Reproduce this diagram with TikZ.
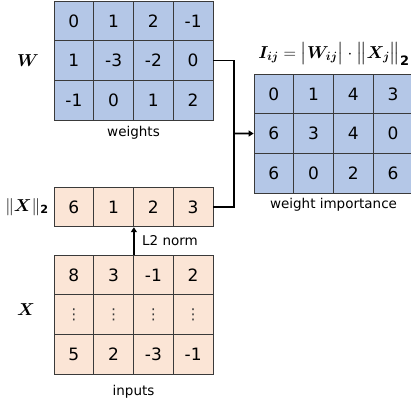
\documentclass[tikz,border=0pt]{standalone}
\usepackage{amsmath,amssymb,bm}
\usepackage{fontspec}
\setmainfont{DejaVu Sans}
\usetikzlibrary{arrows.meta,calc,positioning}
\definecolor{wBlue}{HTML}{B4C7E7}
\definecolor{xPeach}{HTML}{FBE5D6}
\definecolor{ink}{HTML}{000000}
\definecolor{gridline}{HTML}{3A3A3A}
\tikzset{
  cell/.style={draw=gridline,line width=0.8pt,minimum width=39.75pt,
    minimum height=39.67pt,inner sep=0pt,font=\fontsize{17}{17}\selectfont,text=ink},
  wcell/.style={cell,fill=wBlue},
  xcell/.style={cell,fill=xPeach},
  caption/.style={font=\fontsize{13.5}{14}\selectfont,text=ink},
  mathlabel/.style={font=\fontsize{19}{19}\selectfont,text=ink},
  link/.style={line width=1.8pt,draw=ink},
  link arrow/.style={link,-{Triangle[length=5pt,width=6pt]}},
}
\newcommand{\rowdots}{{\fontsize{15}{15}\selectfont\textcolor{gridline}{⋮}}}
\begin{document}
\begin{tikzpicture}[x=1pt,y=-1pt]
  \useasboundingbox (0,0) rectangle (411,398);

  % weights W
  \foreach \row [count=\r] in {{0,1,2,-1},{1,-3,-2,0},{-1,0,1,2}}
    \foreach \val [count=\c] in \row
      \node[wcell] (w-\r-\c) at ({54+39.75*(\c-0.5)},{1+39.67*(\r-0.5)}) {\val};
  \node[caption] (wcap) at (133.5,133) {weights};
  \node[mathlabel] (wlab) at (28,61) {$\bm{W}$};

  % column norms
  \foreach \val [count=\c] in {6,1,2,3}
    \node[xcell] (n-1-\c) at ({54+39.75*(\c-0.5)},207) {\val};
  \node[mathlabel,font=\fontsize{16}{16}\selectfont] (nlab) at (27,207)
    {$\|\bm{X}\|_{\mathbf{2}}$};

  % inputs X
  \foreach \row [count=\r] in {{8,3,-1,2},{\rowdots,\rowdots,\rowdots,\rowdots},{5,2,-3,-1}}
    \foreach \val [count=\c] in \row
      \node[xcell] (x-\r-\c) at ({54+39.75*(\c-0.5)},{255+39.67*(\r-0.5)}) {\val};
  \node[caption] (xcap) at (133.5,392) {inputs};
  \node[mathlabel] (xlab) at (26,310) {$\bm{X}$};

  % importance I
  \foreach \row [count=\r] in {{0,1,4,3},{6,3,4,0},{6,0,2,6}}
    \foreach \val [count=\c] in \row
      \node[wcell] (i-\r-\c) at ({254+39.75*(\c-0.5)},{74+39.67*(\r-0.5)}) {\val};
  \node[caption] (icap) at (333.5,205) {weight importance};
  \node[mathlabel,font=\fontsize{18.5}{19}\selectfont] (ilab) at (334,54)
    {$\bm{I_{ij}} = \bigl|\bm{W_{ij}}\bigr| \cdot \bigl\|\bm{X_j}\bigr\|_{\mathbf{2}}$};

  % connectors
  \coordinate (join) at (234,133.5);
  \draw[link] (w-2-4.east) -| (join) |- (n-1-4.east);
  \draw[link arrow] (join) -- (i-2-1.west);
  \draw[link arrow] (x-1-2.north east) -- (n-1-2.south east)
    node[caption,midway,right=4pt] {L2 norm};
\end{tikzpicture}
\end{document}
